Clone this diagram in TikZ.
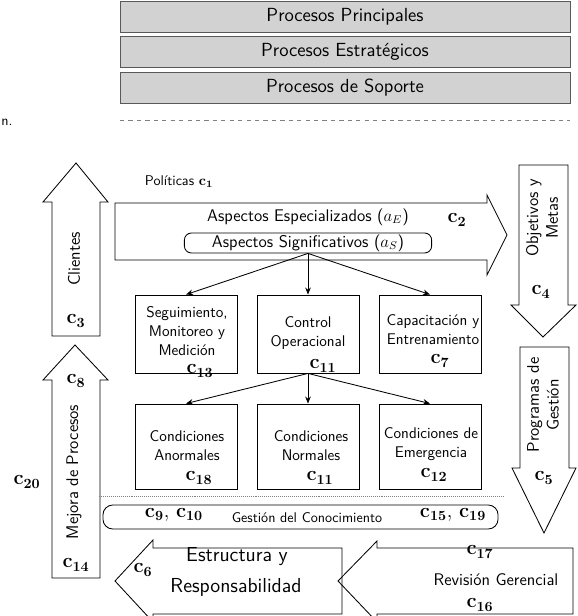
\documentclass[tikz,border=0pt]{standalone}
\usepackage{amsmath}
\usepackage{tikz}
\usetikzlibrary{arrows.meta}
\newcommand{\cnum}[1]{$\mathbf{c}_{\mathbf{#1}}$}

\begin{document}
\begin{tikzpicture}[x=0.025cm, y=-0.025cm,
  every node/.style={font=\sffamily},
  barbox/.style={draw=gray!70!black, fill=gray!35, minimum width=11.25cm, minimum height=0.78cm, inner sep=0pt, font=\sffamily\fontsize{13.5}{16}\selectfont},
  blockarrow/.style={draw, line width=0.6pt},
  condbox/.style={draw, line width=0.6pt, minimum width=2.55cm, inner sep=0pt},
  roundbox/.style={draw, line width=0.6pt, rounded corners=5pt, inner sep=0pt},
  boxtext/.style={align=center, font=\sffamily\fontsize{11}{13.5}\selectfont},
  arrowtext/.style={font=\sffamily\large},
  cmark/.style={font=\Large, inner sep=1pt},
  conn/.style={-{Stealth[length=5pt, width=4pt]}, semithick}]
\useasboundingbox (0,0) rectangle (577,616);

% procesos
\node[barbox] (principales) at (345,16.5) {Procesos Principales};
\node[barbox] (estrategicos) at (345,52) {Procesos Estratégicos};
\node[barbox] (soporte) at (345,88) {Procesos de Soporte};
\draw[dashed, gray] (120,120) -- (570,120);
\node (nmark) at (7,122) {n.};

% flechas de la izquierda
\draw[blockarrow] (52,336) -- (52,202) -- (43,202) -- (76,163) -- (108,202) -- (100,202) -- (100,336) -- cycle;
\node[arrowtext, rotate=90] (clientes) at (74,259) {Clientes};
\node[cmark] (c3) at (76,321) {\cnum{3}};
\draw[blockarrow] (52,578) -- (52,380) -- (43,380) -- (75,345) -- (108,380) -- (100,380) -- (100,578) -- cycle;
\node[arrowtext, rotate=90] (mejora) at (74,472) {Mejora de Procesos};
\node[cmark] (c8) at (76,381) {\cnum{8}};
\node[cmark] (c14) at (76,565) {\cnum{14}};
\node[cmark] (c20) at (27,482) {\cnum{20}};

% aspectos
\node[anchor=west] (politicas) at (140,182) {Políticas \cnum{1}};
\draw[blockarrow] (115,203) -- (487,203) -- (487,195) -- (507,235) -- (487,275) -- (487,260) -- (115,260) -- cycle;
\node[font=\sffamily\large] (especializados) at (308,217) {Aspectos Especializados ($a_E$)};
\node[cmark] (c2) at (457,220) {\cnum{2}};
\node[roundbox, font=\sffamily\large, minimum width=6.18cm, minimum height=0.5cm] (signif) at (308,243) {Aspectos Significativos ($a_S$)};

% flechas de la derecha
\draw[blockarrow] (519,165) -- (568,165) -- (568,305) -- (576,305) -- (543,337) -- (511,305) -- (519,305) -- cycle;
\node[arrowtext, rotate=90, align=center] (objetivos) at (542,218) {Objetivos y\\Metas};
\node[cmark] (c4) at (541,292) {\cnum{4}};
\draw[blockarrow] (520,347) -- (569,347) -- (569,468) -- (576,468) -- (544,533) -- (512,468) -- (520,468) -- cycle;
\node[arrowtext, rotate=90, align=center] (programas) at (543,405) {Programas de\\Gestión};
\node[cmark] (c5) at (544,478) {\cnum{5}};

% primer nivel
\node[condbox, minimum height=1.95cm] (seguim) at (186,334) {};
\node[condbox, minimum height=1.95cm] (control) at (308,334) {};
\node[condbox, minimum height=1.95cm] (capacit) at (430,334) {};
\node[boxtext] (seguimtxt) at (187,331) {Seguimiento,\\Monitoreo y\\Medición};
\node[cmark] (c13) at (200,371) {\cnum{13}};
\node[boxtext] (controltxt) at (308,333) {Control\\Operacional};
\node[cmark] (c11a) at (323,366) {\cnum{11}};
\node[boxtext] (capacittxt) at (433,330) {Capacitación y\\Entrenamiento};
\node[cmark] (c7) at (440,361) {\cnum{7}};
\draw[conn] (signif.south) -- (seguim.north);
\draw[conn] (signif.south) -- (control.north);
\draw[conn] (signif.south) -- (capacit.north);

% segundo nivel
\node[condbox, minimum height=2.125cm] (anormal) at (186,446.5) {};
\node[condbox, minimum height=2.125cm] (normal) at (308,446.5) {};
\node[condbox, minimum height=2.125cm] (emergencia) at (430,446.5) {};
\node[boxtext] (anormaltxt) at (187,446) {Condiciones\\Anormales};
\node[cmark] (c18) at (199,478) {\cnum{18}};
\node[boxtext] (normaltxt) at (311,446) {Condiciones\\Normales};
\node[cmark] (c11b) at (320,478) {\cnum{11}};
\node[boxtext] (emergtxt) at (431,444) {Condiciones de\\Emergencia};
\node[cmark] (c12) at (434,475) {\cnum{12}};
\draw[conn] (control.south) -- (anormal.north);
\draw[conn] (control.south) -- (normal.north);
\draw[conn] (control.south) -- (emergencia.north);
\draw[densely dotted, gray] (99,496) -- (504,496);

% conocimiento
\node[roundbox, rounded corners=7pt, minimum width=9.875cm, minimum height=0.6cm] (conocimiento) at (300.5,517) {};
\node[cmark] (c9c10) at (174,515) {\cnum{9}, \cnum{10}};
\node (gestiontxt) at (307,518) {Gestión del Conocimiento};
\node[cmark] (c15c19) at (453,515) {\cnum{15}, \cnum{19}};

% flechas de abajo
\draw[blockarrow] (342,548) -- (153,548) -- (153,540) -- (115,581) -- (153,622) -- (153,614) -- (342,614) -- cycle;
\node[font=\sffamily\Large] (estructura) at (237,557) {Estructura y};
\node[font=\sffamily\Large] (respons) at (236,587) {Responsabilidad};
\node[cmark] (c6) at (143,570) {\cnum{6}};
\draw[blockarrow] (573,548) -- (377,548) -- (377,541) -- (338,581) -- (377,622) -- (377,614) -- (573,614) -- cycle;
\node[cmark] (c17) at (480,552) {\cnum{17}};
\node[arrowtext] (revision) at (496,580) {Revisión Gerencial};
\node[cmark] (c16) at (480,605) {\cnum{16}};
\end{tikzpicture}
\end{document}
